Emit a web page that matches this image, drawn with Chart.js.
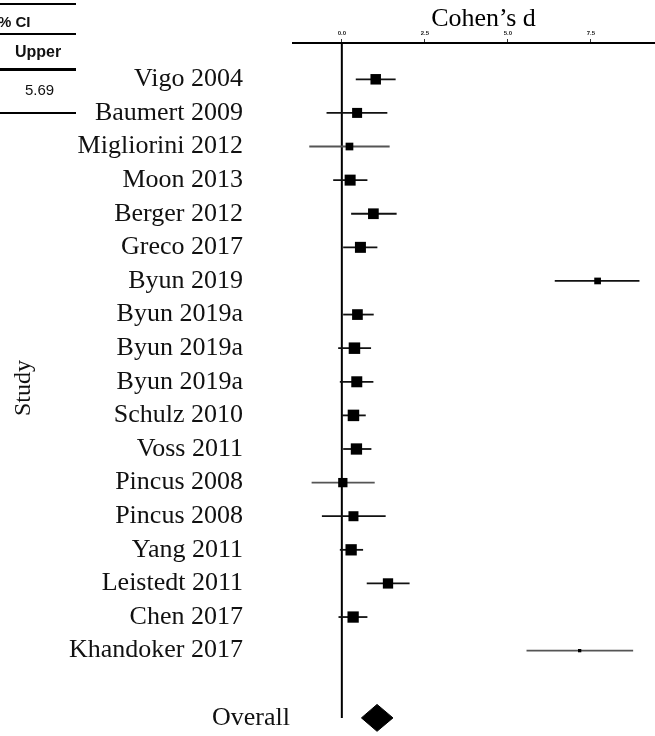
<!DOCTYPE html>
<html>
<head>
<meta charset="utf-8">
<script src="https://cdn.jsdelivr.net/npm/chart.js@4"></script>
<style>
    body { margin: 0; background: #fff; }
    #frame { position: relative; width: 655px; height: 736px; overflow: hidden; background: #fff; }
    #frame canvas { position: absolute; left: 0; top: 0; }
    .rule { position: absolute; left: 0; width: 76px; background: #000; }
    .cell { position: absolute; font-family: 'Liberation Sans', Arial, sans-serif; font-size: 15px; color: #111; line-height: 18px; }
</style>
</head>
<body>
<div id="frame">
    <canvas id="forest" width="674" height="736"></canvas>
    <!-- cropped table from the neighbouring panel -->
    <div class="rule" style="top:3px;height:2px"></div>
    <div class="cell" style="top:13px;left:-2px;font-weight:bold">% CI</div>
    <div class="rule" style="top:33px;height:2px"></div>
    <div class="cell" style="top:43px;left:15px;font-weight:bold;font-size:16px">Upper</div>
    <div class="rule" style="top:68px;height:3px"></div>
    <div class="cell" style="top:81px;left:25px">5.69</div>
    <div class="rule" style="top:112px;height:2px"></div>
</div>
<script>
// study labels, top to bottom
const STUDIES = [
    'Vigo 2004', 'Baumert 2009', 'Migliorini 2012', 'Moon 2013', 'Berger 2012', 'Greco 2017',
    'Byun 2019', 'Byun 2019a', 'Byun 2019a', 'Byun 2019a', 'Schulz 2010', 'Voss 2011',
    'Pincus 2008', 'Pincus 2008', 'Yang 2011', 'Leistedt 2011', 'Chen 2017', 'Khandoker 2017'
];
// Cohen's d and 95% CI
const EFFECT = [1.02, 0.46, 0.23, 0.25, 0.95, 0.56, 7.70, 0.47, 0.38, 0.45, 0.35, 0.44, 0.03, 0.35, 0.28, 1.39, 0.34, 7.16];
const LOWER  = [0.42, -0.46, -0.98, -0.26, 0.28, 0.04, 6.41, 0.04, -0.11, -0.06, 0.00, 0.04, -0.91, -0.60, -0.06, 0.75, -0.10, 5.56];
const UPPER  = [1.62, 1.37, 1.44, 0.77, 1.65, 1.07, 8.96, 0.96, 0.88, 0.95, 0.72, 0.89, 0.99, 1.32, 0.64, 2.04, 0.77, 8.77];
// relative study weight (drives marker size)
const WEIGHT = [10.5, 10, 7.7, 11, 10.7, 11, 6.7, 10.7, 11.5, 11, 11.5, 11.3, 9.3, 10, 11.3, 10.3, 11.3, 3.3];
// pooled estimate
const OVERALL = { label: 'Overall', effect: 1.06, lower: 0.59, upper: 1.54 };
const OVERALL_ROW = STUDIES.length + 1;
const X_TICKS = [0, 2.5, 5, 7.5];

const SERIF = "'Liberation Serif', 'Times New Roman', serif";
const Y_MIN = -1.08;
const greyBars = [2, 12, 17];

const ciSets = STUDIES.map((s, i) => ({
    type: 'line',
    data: [{ x: LOWER[i], y: i }, { x: UPPER[i], y: i }],
    borderColor: greyBars.includes(i) ? '#555' : '#111',
    borderWidth: 1.8,
    pointRadius: 0
}));

// line of no effect, stops at the pooled row
const zeroLine = {
    type: 'line',
    data: [{ x: 0, y: Y_MIN }, { x: 0, y: OVERALL_ROW }],
    borderColor: '#000',
    borderWidth: 2,
    pointRadius: 0
};

const half = 0.4; // diamond half height in rows
const diamond = {
    type: 'line',
    data: [
        { x: OVERALL.lower, y: OVERALL_ROW },
        { x: OVERALL.effect, y: OVERALL_ROW - half },
        { x: OVERALL.upper, y: OVERALL_ROW },
        { x: OVERALL.effect, y: OVERALL_ROW + half },
        { x: OVERALL.lower, y: OVERALL_ROW }
    ],
    borderColor: '#000',
    backgroundColor: '#000',
    borderWidth: 1,
    fill: 'shape',
    tension: 0,
    pointRadius: 0
};

// draws the "Overall" row label, which sits closer to the axis than the study labels
const overallLabel = {
    id: 'overallLabel',
    afterDraw(chart) {
        const { ctx, chartArea, scales } = chart;
        ctx.save();
        ctx.font = '26px ' + SERIF;
        ctx.fillStyle = '#111';
        ctx.textAlign = 'right';
        ctx.textBaseline = 'middle';
        ctx.fillText(OVERALL.label, chartArea.left - 3, scales.y.getPixelForValue(OVERALL_ROW));
        ctx.restore();
    }
};

const noPadding = scale => {
    scale.paddingTop = 0;
    scale.paddingBottom = 0;
    scale.paddingLeft = 0;
    scale.paddingRight = 0;
};

new Chart(document.getElementById('forest'), {
    type: 'scatter',
    data: {
        datasets: [
            {
                data: EFFECT.map((v, i) => ({ x: v, y: i })),
                pointStyle: 'rect',
                pointRadius: WEIGHT.map(w => w / Math.SQRT2),
                pointBackgroundColor: '#000',
                pointBorderWidth: 0,
                clip: false
            },
            diamond,
            ...ciSets,
            zeroLine
        ]
    },
    options: {
        responsive: false,
        animation: false,
        layout: { autoPadding: false, padding: { left: 0, right: 0, top: 0, bottom: 3 } },
        plugins: { legend: { display: false }, tooltip: { enabled: false } },
        scales: {
            x: {
                type: 'linear',
                position: 'top',
                min: -1.47,
                max: 10,
                afterBuildTicks: scale => { scale.ticks = X_TICKS.map(v => ({ value: v })); },
                afterFit: scale => { scale.height = 43; noPadding(scale); },
                grid: {
                    color: 'rgba(0,0,0,0)',
                    drawTicks: true,
                    tickLength: 4,
                    tickColor: '#333',
                    tickWidth: 1
                },
                border: { display: true, color: '#000', width: 2 },
                ticks: {
                    color: '#222',
                    padding: 2,
                    font: { family: "'Liberation Sans', Arial, sans-serif", size: 6, weight: 'bold' },
                    callback: v => v.toFixed(1)
                },
                title: {
                    display: true,
                    text: 'Cohen\u2019s d',
                    color: '#000',
                    font: { family: SERIF, size: 26, lineHeight: 1.2 },
                    padding: { top: 4, bottom: 0 }
                }
            },
            y: {
                type: 'linear',
                reverse: true,
                min: Y_MIN,
                max: OVERALL_ROW + 0.45,
                afterBuildTicks: scale => { scale.ticks = STUDIES.map((s, i) => ({ value: i })); },
                afterFit: scale => { scale.width = 293; noPadding(scale); },
                grid: { display: false, drawTicks: false },
                border: { display: false },
                ticks: {
                    color: '#111',
                    padding: 50,
                    autoSkip: false,
                    font: { family: SERIF, size: 26 },
                    callback: v => STUDIES[v] || ''
                },
                title: {
                    display: true,
                    text: 'Study',
                    color: '#111',
                    font: { family: SERIF, size: 24, lineHeight: 1.2 },
                    padding: { top: 9, bottom: 0 }
                }
            }
        }
    },
    plugins: [overallLabel]
});
</script>
</body>
</html>
